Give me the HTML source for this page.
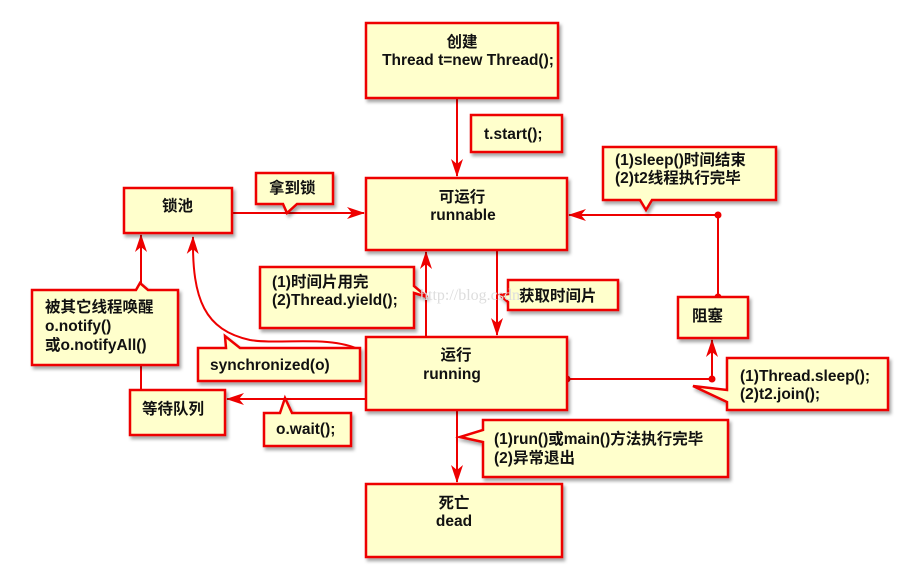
<!DOCTYPE html>
<html><head><meta charset="utf-8"><style>
html,body{margin:0;padding:0;background:#fff;}
svg{display:block;}
text{font-family:"Liberation Sans","Noto Sans CJK SC",sans-serif;font-size:15.5px;font-weight:bold;fill:#111;}
.b{fill:#ffffcc;stroke:#ee0000;stroke-width:2.5;filter:url(#sh);}
.l{stroke:#ee0000;stroke-width:2;fill:none;}
</style></head><body>
<svg width="906" height="570" viewBox="0 0 906 570" xmlns="http://www.w3.org/2000/svg">
<defs>
<filter id="sh" x="-10%" y="-10%" width="130%" height="140%"><feDropShadow dx="2" dy="3" stdDeviation="1.5" flood-color="#000" flood-opacity="0.35"/></filter>
<marker id="a" markerWidth="18" markerHeight="12" refX="17" refY="6" orient="auto" markerUnits="userSpaceOnUse"><path d="M0,0 L18,6 L0,12 L5,6 Z" fill="#ee0000"/></marker>
</defs>

<line class="l" x1="457" y1="98" x2="457" y2="176" marker-end="url(#a)"/>
<line class="l" x1="232" y1="213" x2="364" y2="213" marker-end="url(#a)"/>
<line class="l" x1="497" y1="250" x2="497" y2="335" marker-end="url(#a)"/>
<line class="l" x1="426" y1="337" x2="426" y2="252" marker-end="url(#a)"/>
<polyline class="l" points="718,297 718,215 569,215" marker-end="url(#a)"/>
<polyline class="l" points="567,379 712,379 712,340" marker-end="url(#a)"/>
<line class="l" x1="366" y1="399" x2="227" y2="399" marker-end="url(#a)"/>
<line class="l" x1="141" y1="390" x2="141" y2="235" marker-end="url(#a)"/>
<path class="l" d="M360,350 C330,335 280,345 250,340 C205,330 192,300 193,237" marker-end="url(#a)"/>
<line class="l" x1="457" y1="410" x2="457" y2="482" marker-end="url(#a)"/>
<circle cx="718" cy="215" r="3.5" fill="#ee0000"/>
<circle cx="718" cy="297" r="3.5" fill="#ee0000"/>
<circle cx="567" cy="379" r="3.5" fill="#ee0000"/>
<circle cx="712" cy="379" r="3.5" fill="#ee0000"/>

<rect class="b" x="366" y="23" width="192" height="75"/>
<text x="462" y="47" text-anchor="middle">创建</text>
<text x="468" y="65" text-anchor="middle">Thread t=new Thread();</text>

<rect class="b" x="471" y="115" width="91" height="37"/>
<text x="484" y="139">t.start();</text>

<rect class="b" x="366" y="178" width="201" height="72"/>
<text x="462" y="202" text-anchor="middle">可运行</text>
<text x="463" y="220" text-anchor="middle">runnable</text>

<rect class="b" x="124" y="188" width="108" height="45"/>
<text x="162" y="211">锁池</text>

<path class="b" d="M256,173 H333 V204 H297 L287,213 L283,204 H256 Z"/>
<text x="269" y="193">拿到锁</text>

<path class="b" d="M603,147 H776 V200 H652 L646,210 L640,200 H603 Z"/>
<text x="615" y="165">(1)sleep()时间结束</text>
<text x="615" y="183">(2)t2线程执行完毕</text>

<rect class="b" x="678" y="297" width="70" height="41"/>
<text x="692" y="321">阻塞</text>

<rect class="b" x="366" y="337" width="201" height="73"/>
<text x="456" y="360" text-anchor="middle">运行</text>
<text x="452" y="379" text-anchor="middle">running</text>

<path class="b" d="M260,267 H414 V286 L427,297 L414,293 V328 H260 Z"/>
<text x="272" y="287">(1)时间片用完</text>
<text x="272" y="305">(2)Thread.yield();</text>

<path class="b" d="M508,280 H618 V310 H508 V302 L500,295 L508,294 Z"/>
<text x="519" y="301">获取时间片</text>

<path class="b" d="M32,290 H136 L140,283 L148,290 H178 V365 H32 Z"/>
<text x="45" y="312">被其它线程唤醒</text>
<text x="45" y="331">o.notify()</text>
<text x="45" y="350">或o.notifyAll()</text>

<path class="b" d="M198,348 H226 L225,336 L240,348 H360 V381 H198 Z"/>
<text x="210" y="370">synchronized(o)</text>

<rect class="b" x="130" y="390" width="95" height="45"/>
<text x="142" y="414">等待队列</text>

<path class="b" d="M264,413 H280 L285,398 L292,413 H351 V446 H264 Z"/>
<text x="276" y="434">o.wait();</text>

<path class="b" d="M727,358 H888 V410 H727 V402 L693,386 L727,390 Z"/>
<text x="740" y="381">(1)Thread.sleep();</text>
<text x="740" y="399">(2)t2.join();</text>

<path class="b" d="M483,420 H728 V477 H483 V442 L460,437 L483,430 Z"/>
<text x="494" y="444">(1)run()或main()方法执行完毕</text>
<text x="494" y="463">(2)异常退出</text>

<rect class="b" x="366" y="484" width="196" height="73"/>
<text x="454" y="508" text-anchor="middle">死亡</text>
<text x="454" y="526" text-anchor="middle">dead</text>

<text x="420" y="300" style="font-family:'Liberation Serif',serif;font-weight:normal;font-size:16px;fill:#ddd;">http://blog.csdn</text>
</svg>
</body></html>
